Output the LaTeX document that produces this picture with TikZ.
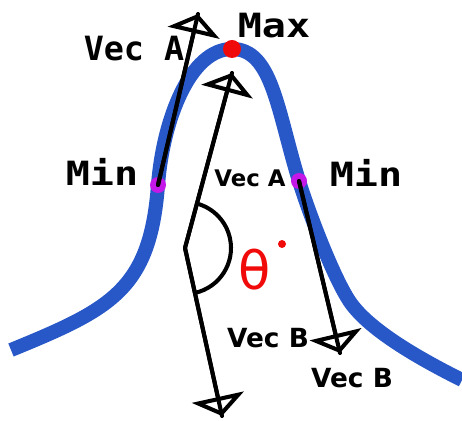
\documentclass[tikz,border=0pt]{standalone}
\usepackage{fontspec}
\setmainfont{DejaVu Sans}
\setmonofont{DejaVu Sans Mono}
\usepackage{graphicx}
\usepackage{xcolor}
\usepackage{tikz}
\usetikzlibrary{arrows.meta,angles}
\definecolor{pkblue}{RGB}{40,88,200}
\definecolor{pkpurple}{RGB}{196,24,232}
\definecolor{pkred}{RGB}{240,10,10}
\newcommand{\pkwide}[1]{\scalebox{1.2}[1]{#1}}
\tikzset{
  pkcurve/.style={line width=8pt, draw=pkblue, line cap=butt},
  pkvec/.style={line width=2.3pt, draw=black, line cap=round, line join=round,
    -{Triangle[open,length=11pt,width=30pt]}, postaction={draw,-}},
  pkmax/.style={circle, fill=pkred, inner sep=0pt, minimum size=0.36cm},
  pkmin/.style={circle, fill=pkpurple, inner sep=0pt, minimum size=0.32cm},
  pkmono/.style={font=\ttfamily\bfseries\fontsize{19}{19}\selectfont, inner sep=0pt},
  pksans/.style={font=\bfseries\fontsize{13}{13}\selectfont, inner sep=0pt},
  pksansb/.style={font=\bfseries\fontsize{15}{15}\selectfont, inner sep=0pt},
  pkangle/.style={draw=black, line width=2.3pt, angle radius=0.92cm},
  pktheta/.style={font=\fontsize{30}{30}\selectfont, text=pkred, inner sep=0pt},
}

\begin{document}
\begin{tikzpicture}[x=0.02cm,y=-0.02cm]
\useasboundingbox (0,0) rectangle (462,421);
% bell curve
\draw[pkcurve] (11,350) .. controls (111,309) and (150,290) .. (158,185)
  .. controls (163,120) and (190,49) .. (232,49)
  .. controls (272,49) and (277,109) .. (299,181)
  .. controls (308,210) and (333,277) .. (350,302)
  .. controls (370,331) and (422,360) .. (462,380);
\node[pkmax] (max) at (232,49) {};
\node[pkmin] (minl) at (158,185) {};
\node[pkmin] (minr) at (299,181) {};
% vectors
\coordinate (tipl) at (198,14);
\coordinate (vert) at (185,248);
\coordinate (tipa) at (232,73);
\coordinate (tipb) at (222,416);
\coordinate (tipr) at (340,353);
\draw[pkvec] (minl.center) -- (tipl);
\draw[pkvec] (vert) -- (tipa);
\draw[pkvec] (vert) -- (tipb);
\draw[pkvec] (minr.center) -- (tipr);
\pic[pkangle] {angle=tipb--vert--tipa};
% labels
\node[pkmono] (vecal) at (134,49) {Vec A};
\node[pkmono] (maxlbl) at (274,26) {\pkwide{Max}};
\node[pkmono] (minlbll) at (102,172) {\pkwide{Min}};
\node[pkmono] (minlblr) at (366,173) {\pkwide{Min}};
\node[pksans] (vecam) at (250,178) {Vec A};
\node[pksansb] (vecbm) at (268,338) {Vec B};
\node[pksansb] (vecbr) at (352,378) {Vec B};
\node[pktheta] (theta) at (255,270) {θ};
\fill[pkred] (282,244) circle (4);
\end{tikzpicture}
\end{document}
